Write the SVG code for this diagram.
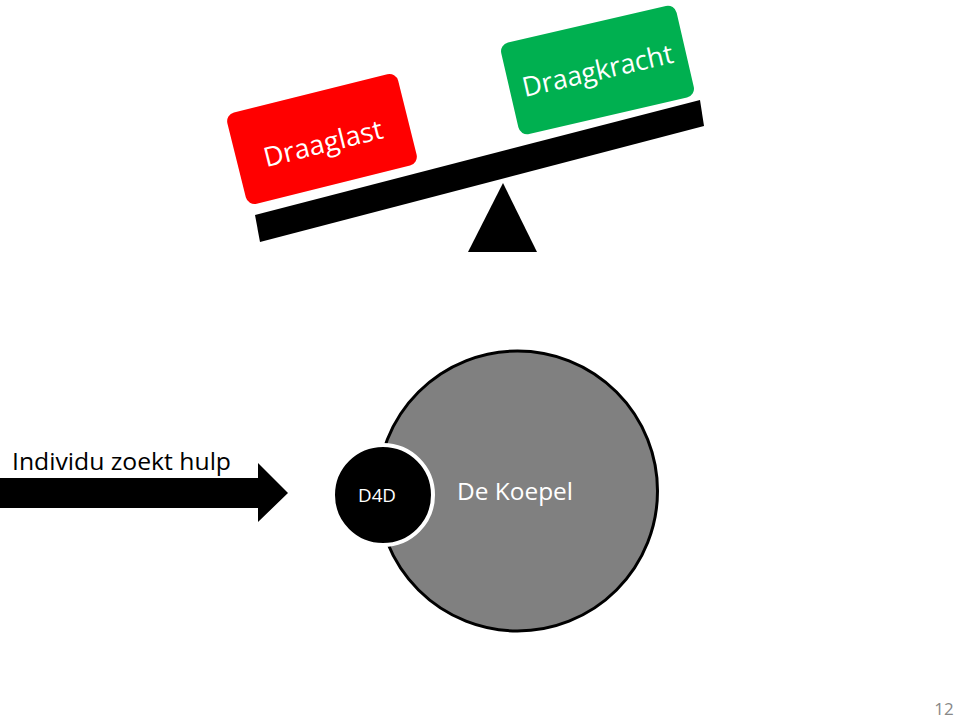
<svg xmlns="http://www.w3.org/2000/svg" width="960" height="720" viewBox="0 0 960 720">
<style>
.lbl{font-family:"Open Sans","Liberation Sans",sans-serif;fill:#fff}
.blk{font-family:"Open Sans","Liberation Sans",sans-serif;fill:#000}
</style>
<rect width="960" height="720" fill="#fff"/>
<g id="balance">
<polygon points="255,215 700,100 704,126 260,242" fill="#000"/>
<polygon points="503,183 537,252 468,252" fill="#000"/>
</g>
<g id="draaglast" transform="translate(322,139) rotate(-14)">
<rect x="-88" y="-47" width="176" height="94" rx="9" fill="#ff0000"/>
<text class="lbl" x="0" y="14" font-size="27" text-anchor="middle" textLength="122" lengthAdjust="spacingAndGlyphs">Draaglast</text>
</g>
<g id="draagkracht" transform="translate(597.5,70) rotate(-13)">
<rect x="-90" y="-47" width="180" height="94" rx="9" fill="#00b050"/>
<text class="lbl" x="0" y="10" font-size="27" text-anchor="middle" textLength="154" lengthAdjust="spacingAndGlyphs">Draagkracht</text>
</g>
<g id="connectors">
<polygon points="0,478 258,478 258,463 288,493 258,522 258,508 0,508" fill="#000"/>
<text class="blk" x="12" y="470" font-size="23" textLength="219" lengthAdjust="spacingAndGlyphs">Individu zoekt hulp</text>
</g>
<g id="koepel">
<circle cx="517.5" cy="491" r="140" fill="#808080" stroke="#000" stroke-width="3"/>
<text class="lbl" x="457" y="500" font-size="24" textLength="116" lengthAdjust="spacingAndGlyphs">De Koepel</text>
</g>
<g id="d4d">
<circle cx="383" cy="495" r="50" fill="#000" stroke="#fff" stroke-width="4"/>
<text class="lbl" x="377" y="502" font-size="18" text-anchor="middle" textLength="38" lengthAdjust="spacingAndGlyphs">D4D</text>
</g>
<text x="944" y="715" font-family="Open Sans, Liberation Sans, sans-serif" font-size="17" fill="#888" text-anchor="middle">12</text>
</svg>
